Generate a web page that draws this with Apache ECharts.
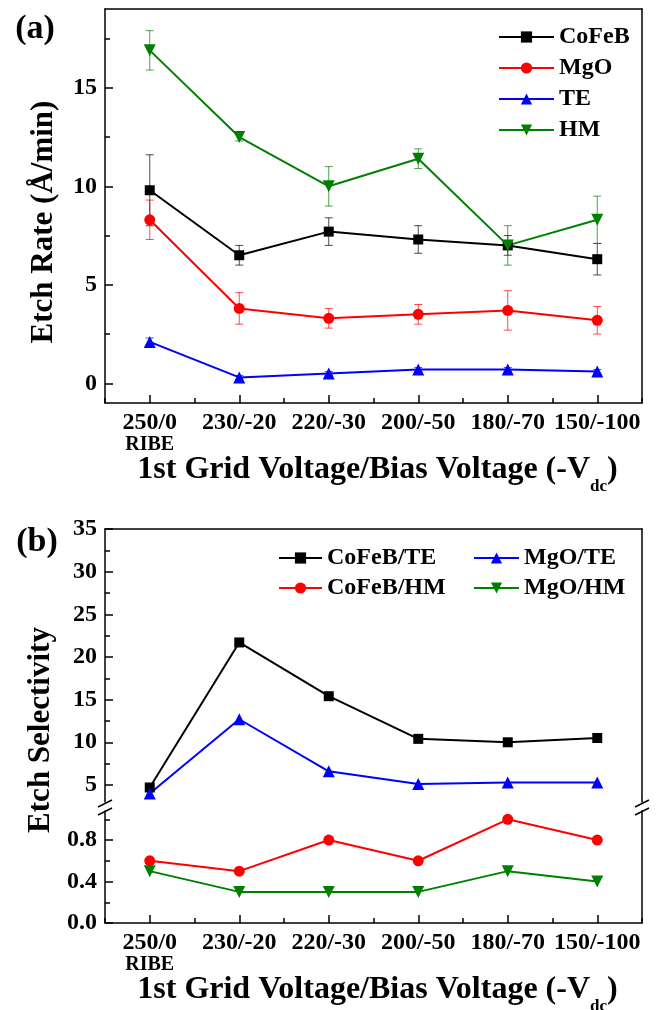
<!DOCTYPE html>
<html>
<head>
<meta charset="utf-8">
<script src="https://cdn.jsdelivr.net/npm/echarts@6/dist/echarts.min.js"></script>
<style>
html, body { margin: 0; padding: 0; background: #fff; }
#main { width: 656px; height: 1010px; }
</style>
</head>
<body>
<div id="main"></div>
<script>
var categories = ['250/0', '230/-20', '220/-30', '200/-50', '180/-70', '150/-100'];

// (a) etch rate, A/min, with +/- error
var cofeb = [9.8, 6.5, 7.7, 7.3, 7.0, 6.3];
var cofebErr = [1.8, 0.5, 0.7, 0.7, 0.5, 0.8];
var mgo = [8.3, 3.8, 3.3, 3.5, 3.7, 3.2];
var mgoErr = [1.0, 0.8, 0.5, 0.5, 1.0, 0.7];
var te = [2.1, 0.3, 0.5, 0.7, 0.7, 0.6];
var teErr = [0.2, 0.1, 0.1, 0.1, 0.1, 0.1];
var hm = [16.9, 12.5, 10.0, 11.4, 7.0, 8.3];
var hmErr = [1.0, 0.2, 1.0, 0.5, 1.0, 1.2];

// (b) etch selectivity
var cofebTe = [4.7, 21.7, 15.4, 10.4, 10.0, 10.5];
var mgoTe = [4.0, 12.7, 6.6, 5.1, 5.3, 5.3];
var cofebHm = [0.6, 0.5, 0.8, 0.6, 1.0, 0.8];
var mgoHm = [0.5, 0.3, 0.3, 0.3, 0.5, 0.4];

var rateLabels = [0, 5, 10, 15];
var rateMinor = [2.5, 7.5, 12.5, 17.5];
var selUpLabels = [5, 10, 15, 20, 25, 30, 35];
var selUpMinor = [7.5, 12.5, 17.5, 22.5, 27.5, 32.5];
var selLowLabels = [0, 0.4, 0.8];
var selLowMinor = [0.2, 0.6, 1.0];

var FONT = '"Liberation Serif", "Times New Roman", serif';
var TICK = '#000';
var line = { show: true, onZero: false, lineStyle: { color: '#000', width: 1.5 } };
var noLine = { show: false, onZero: false };

function errData (vals, errs) {
  return vals.map(function (v, i) { return [i, v - errs[i], v + errs[i]]; });
}

function errSeries (name, vals, errs, color, xi, yi) {
  return {
    name: name,
    type: 'custom',
    xAxisIndex: xi,
    yAxisIndex: yi,
    data: errData(vals, errs),
    encode: { x: 0, y: [1, 2] },
    z: 1,
    renderItem: function (params, api) {
      var x = api.value(0);
      var lo = api.coord([x, api.value(1)]);
      var hi = api.coord([x, api.value(2)]);
      var w = 4;
      var st = { stroke: color, lineWidth: 1, opacity: 0.7 };
      return {
        type: 'group',
        children: [
          { type: 'line', shape: { x1: lo[0], y1: lo[1], x2: hi[0], y2: hi[1] }, style: st },
          { type: 'line', shape: { x1: hi[0] - w, y1: hi[1], x2: hi[0] + w, y2: hi[1] }, style: st },
          { type: 'line', shape: { x1: lo[0] - w, y1: lo[1], x2: lo[0] + w, y2: lo[1] }, style: st }
        ]
      };
    }
  };
}

function lineSeries (name, data, color, symbol, size, xi, yi, rotate) {
  return {
    name: name,
    type: 'line',
    xAxisIndex: xi,
    yAxisIndex: yi,
    data: data,
    symbol: symbol,
    symbolSize: size,
    symbolRotate: rotate || 0,
    showAllSymbol: true,
    z: 3,
    itemStyle: { color: color },
    lineStyle: { color: color, width: 2 }
  };
}

function catLabels () {
  return {
    show: true,
    interval: 0,
    margin: 8,
    formatter: function (v, i) {
      return i === 0 ? '{a|' + v + '}\n{b|RIBE}' : '{a|' + v + '}';
    },
    rich: {
      a: { fontFamily: FONT, fontWeight: 'bold', fontSize: 24, lineHeight: 24, color: '#000' },
      b: { fontFamily: FONT, fontWeight: 'bold', fontSize: 20, lineHeight: 20, color: '#000' }
    }
  };
}

function xMain (grid) {
  return { type: 'category', gridIndex: grid, position: 'bottom', data: categories, boundaryGap: true,
    axisLine: line, axisLabel: catLabels(),
    axisTick: { show: true, inside: true, length: 8, interval: 0, alignWithLabel: true, lineStyle: { color: TICK, width: 1.5 } },
    splitLine: { show: false } };
}
function xMinor (grid) {
  return { type: 'category', gridIndex: grid, position: 'bottom', data: categories, boundaryGap: true,
    axisLine: noLine, axisLabel: { show: false },
    axisTick: { show: true, inside: true, length: 5, interval: 0, lineStyle: { color: TICK, width: 1.5 } },
    splitLine: { show: false } };
}
function xTop (grid) {
  return { type: 'category', gridIndex: grid, position: 'top', data: categories, boundaryGap: true,
    axisLine: line, axisLabel: { show: false }, axisTick: { show: false }, splitLine: { show: false } };
}
function yMain (grid, min, max, labels, digits) {
  return { type: 'value', gridIndex: grid, position: 'left', min: min, max: max,
    axisLine: line,
    axisTick: { show: true, inside: true, length: 8, customValues: labels, lineStyle: { color: TICK, width: 1.5 } },
    axisLabel: { show: true, margin: 8, customValues: labels, fontFamily: FONT, fontWeight: 'bold', fontSize: 24, color: '#000',
      formatter: function (v) { return digits ? v.toFixed(digits) : String(v); } },
    splitLine: { show: false } };
}
function yMinor (grid, min, max, ticks) {
  return { type: 'value', gridIndex: grid, position: 'left', min: min, max: max,
    axisLine: noLine, axisLabel: { show: false },
    axisTick: { show: true, inside: true, length: 5, customValues: ticks, lineStyle: { color: TICK, width: 1.5 } },
    splitLine: { show: false } };
}
function yRight (grid, min, max) {
  return { type: 'value', gridIndex: grid, position: 'right', min: min, max: max,
    axisLine: line, axisLabel: { show: false }, axisTick: { show: false }, splitLine: { show: false } };
}

var textStyle = { fontFamily: FONT, fontWeight: 'bold', fontSize: 24, lineHeight: 24, color: '#000' };

function title (x, y, str, size, rot, align) {
  return { type: 'text', x: x, y: y, rotation: rot || 0,
    style: { text: str, fontFamily: FONT, fontWeight: 'bold', fontSize: size, fill: '#000',
      align: align || 'center', verticalAlign: 'middle' } };
}

function xTitle (y) {
  return [
    title(590, y, '1st Grid Voltage/Bias Voltage (-V', 32, 0, 'right'),
    title(590, y + 17, 'dc', 17, 0, 'left'),
    title(607, y, ')', 32, 0, 'left')
  ];
}

function breakMarks (x, y) {
  var st = { stroke: '#000', lineWidth: 1.5 };
  return [
    { type: 'line', shape: { x1: x - 7, y1: y + 1, x2: x + 7, y2: y - 6 }, style: st },
    { type: 'line', shape: { x1: x - 7, y1: y + 9, x2: x + 7, y2: y + 2 }, style: st }
  ];
}

var chart = echarts.init(document.getElementById('main'));
chart.setOption({
  backgroundColor: '#fff',
  animation: false,
  grid: [
    { left: 105, top: 9, width: 537, height: 394 },
    { left: 105, top: 529, width: 537, height: 273 },
    { left: 105, top: 811, width: 537, height: 112 }
  ],
  xAxis: [
    xMain(0), xMinor(0), xTop(0),
    xTop(1),
    xMain(2), xMinor(2)
  ],
  yAxis: [
    yMain(0, -1, 19, rateLabels, 0), yMinor(0, -1, 19, rateMinor), yRight(0, -1, 19),
    yMain(1, 3, 35, selUpLabels, 0), yMinor(1, 3, 35, selUpMinor), yRight(1, 3, 35),
    yMain(2, 0, 1.08, selLowLabels, 1), yMinor(2, 0, 1.08, selLowMinor), yRight(2, 0, 1.08)
  ],
  legend: [
    { data: ['CoFeB', 'MgO', 'TE', 'HM'], orient: 'vertical', left: 493, top: 20,
      itemWidth: 55, itemHeight: 14, itemGap: 7, textStyle: textStyle },
    { data: ['CoFeB/TE', 'CoFeB/HM'], orient: 'vertical', left: 273, top: 541,
      itemWidth: 43, itemHeight: 14, itemGap: 6, textStyle: textStyle },
    { data: ['MgO/TE', 'MgO/HM'], orient: 'vertical', left: 468, top: 541,
      itemWidth: 45, itemHeight: 14, itemGap: 6, textStyle: textStyle }
  ],
  series: [
    errSeries('errCoFeB', cofeb, cofebErr, '#000000', 0, 0),
    errSeries('errMgO', mgo, mgoErr, '#ff0000', 0, 0),
    errSeries('errTE', te, teErr, '#0000ff', 0, 0),
    errSeries('errHM', hm, hmErr, '#008000', 0, 0),
    lineSeries('CoFeB', cofeb, '#000000', 'rect', 10, 0, 0),
    lineSeries('MgO', mgo, '#ff0000', 'circle', 11, 0, 0),
    lineSeries('TE', te, '#0000ff', 'triangle', 12, 0, 0),
    lineSeries('HM', hm, '#008000', 'triangle', 12, 0, 0, 180),
    lineSeries('CoFeB/TE', cofebTe, '#000000', 'rect', 10, 3, 3),
    lineSeries('MgO/TE', mgoTe, '#0000ff', 'triangle', 12, 3, 3),
    lineSeries('CoFeB/HM', cofebHm, '#ff0000', 'circle', 11, 4, 6),
    lineSeries('MgO/HM', mgoHm, '#008000', 'triangle', 12, 4, 6, 180)
  ],
  graphic: [
    title(35, 29, '(a)', 34),
    title(37, 542, '(b)', 34),
    title(44, 222, 'Etch Rate (\u00c5/min)', 31, Math.PI / 2),
    title(41, 730, 'Etch Selectivity', 31, Math.PI / 2)
  ].concat(xTitle(470), xTitle(990), breakMarks(105, 806), breakMarks(642, 806))
});
</script>
</body>
</html>
